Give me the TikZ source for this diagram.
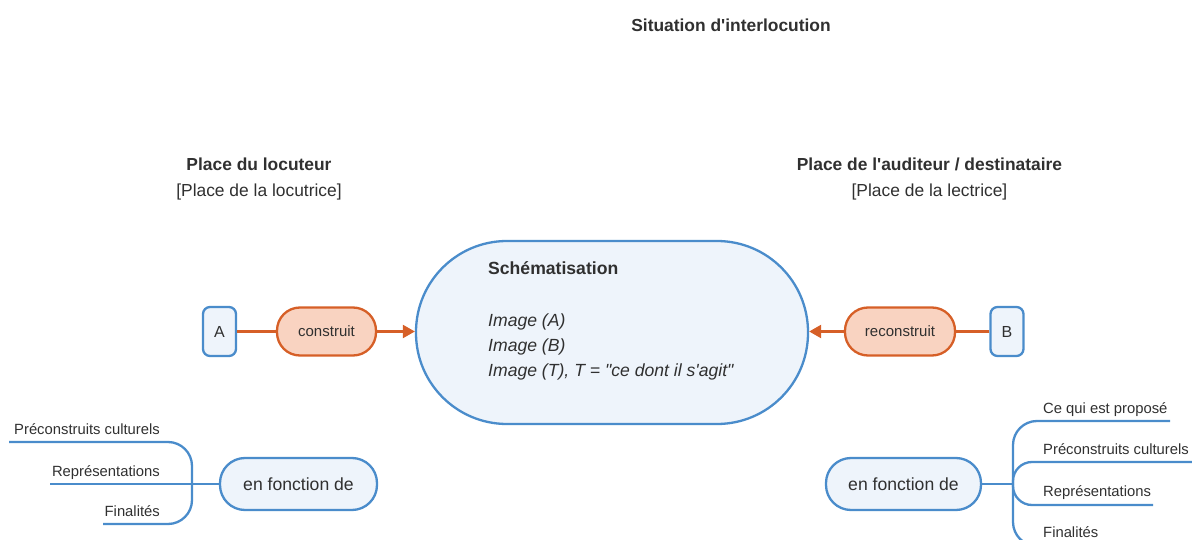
\documentclass[tikz,border=0pt]{standalone}
\usepackage{fontspec}
\setmainfont{Liberation Sans}[Ligatures=TeXOff]
\usetikzlibrary{arrows.meta}

\definecolor{bluestroke}{HTML}{4A8CCB}
\definecolor{bluefill}{HTML}{EEF4FB}
\definecolor{orangestroke}{HTML}{D65F27}
\definecolor{orangefill}{HTML}{F9D3C1}
\definecolor{inktext}{HTML}{303030}

\begin{document}
\begin{tikzpicture}[x=1pt,y=-1pt,
  every node/.style={text=inktext},
  heading/.style={font=\fontsize{17.4}{26}\selectfont, align=center, inner sep=0pt},
  letterbox/.style={draw=bluestroke, fill=bluefill, line width=2.3pt, rounded corners=7pt,
    minimum width=33pt, minimum height=49pt, inner sep=0pt, font=\fontsize{16}{19}\selectfont},
  verbbox/.style={draw=orangestroke, fill=orangefill, line width=2.3pt, rounded corners=23pt,
    minimum height=48pt, inner sep=0pt, font=\fontsize{15}{18}\selectfont},
  pill/.style={draw=bluestroke, fill=bluefill, line width=2.3pt, rounded corners=91pt,
    minimum width=392pt, minimum height=183pt, inner sep=0pt},
  fonctionbox/.style={draw=bluestroke, fill=bluefill, line width=2.3pt, rounded corners=25pt,
    minimum height=52pt, inner sep=0pt, font=\fontsize{17.6}{21}\selectfont},
  schemaline/.style={font=\fontsize{17.6}{21}\selectfont\itshape, anchor=base west, inner sep=0pt},
  leaf/.style={font=\fontsize{14.8}{18}\selectfont, inner sep=0pt},
  link/.style={draw=orangestroke, line width=2.3pt},
  arrowlink/.style={link, -{Triangle[length=12pt,width=13pt]}},
  branch/.style={draw=bluestroke, line width=2.3pt}
]
\useasboundingbox (0,0) rectangle (1192,540);
\clip (0,0) rectangle (1192,540);

% headings
\node[heading, font=\fontsize{17.4}{21}\selectfont\bfseries] (title) at (731,25) {Situation d'interlocution};
\node[heading] (locuteur) at (259,179) {\textbf{Place du locuteur}\\{[}Place de la locutrice{]}};
\node[heading] (auditeur) at (929.5,179) {\textbf{Place de l'auditeur / destinataire}\\{[}Place de la lectrice{]}};

% central schematisation
\node[pill] (schema) at (612,332.5) {};
\node[schemaline, font=\fontsize{17.6}{21}\selectfont\bfseries] (schematitle) at (488,275) {Schématisation};
\node[schemaline] (imga) at (488,326) {Image (A)};
\node[schemaline] (imgb) at (488,351) {Image (B)};
\node[schemaline] (imgt) at (488,376) {Image (T), T = "ce dont il s'agit"};

% speakers and their actions
\node[letterbox] (A) at (219.5,331.5) {A};
\node[verbbox, minimum width=99pt] (construit) at (326.5,331.5) {construit};
\node[letterbox] (B) at (1007,331.5) {B};
\node[verbbox, minimum width=110pt] (reconstruit) at (900,331.5) {reconstruit};

\draw[link] (A) -- (construit);
\draw[arrowlink] (construit) -- (construit -| schema.west);
\draw[link] (B) -- (reconstruit);
\draw[arrowlink] (reconstruit) -- (reconstruit -| schema.east);

% left: en fonction de
\node[fonctionbox, minimum width=157pt] (fl) at (298.5,484) {en fonction de};
\coordinate (jl) at (192,484);
\coordinate (lend1) at (9,442);
\coordinate (lend2) at (50,484);
\coordinate (lend3) at (103,524);
\draw[branch] (fl.west) -- (lend2);
\draw[branch, rounded corners=24pt] (jl) |- (lend1);
\draw[branch, rounded corners=24pt] (jl) |- (lend3);
\node[leaf, anchor=base east] (lt1) at (160,434) {Préconstruits culturels};
\node[leaf, anchor=base east] (lt2) at (160,476) {Représentations};
\node[leaf, anchor=base east] (lt3) at (160,516) {Finalités};

% right: en fonction de
\node[fonctionbox, minimum width=155pt] (fr) at (903.5,484) {en fonction de};
\coordinate (jr) at (1013,484);
\coordinate (rend1) at (1170,421);
\coordinate (rend2) at (1200,462);
\coordinate (rend3) at (1153,505);
\coordinate (rend4) at (1100,546);
\draw[branch] (fr.east) -- (jr);
\draw[branch, rounded corners=24pt] (jr) |- (rend1);
\draw[branch, rounded corners=19pt] (jr) |- (rend2);
\draw[branch, rounded corners=19pt] (jr) |- (rend3);
\draw[branch, rounded corners=24pt] (jr) |- (rend4);
\node[leaf, anchor=base west] (rt1) at (1043,413) {Ce qui est proposé};
\node[leaf, anchor=base west] (rt2) at (1043,454) {Préconstruits culturels};
\node[leaf, anchor=base west] (rt3) at (1043,496) {Représentations};
\node[leaf, anchor=base west] (rt4) at (1043,537) {Finalités};
\end{tikzpicture}
\end{document}
